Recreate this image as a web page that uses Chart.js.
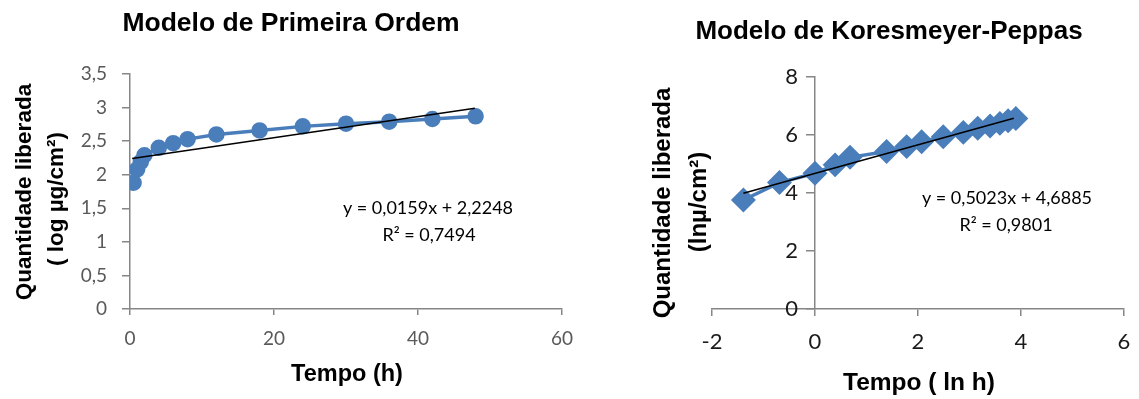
<!DOCTYPE html>
<html>
<head>
<meta charset="utf-8">
<script src="https://cdn.jsdelivr.net/npm/chart.js@4/dist/chart.umd.min.js"></script>
<style>
body{margin:0;background:#fff;width:1139px;height:399px;overflow:hidden;position:relative}
canvas{position:absolute;top:0}
#c1{left:0}
#c2{left:580px}
</style>
</head>
<body>
<canvas id="c1" width="580" height="399"></canvas>
<canvas id="c2" width="559" height="399"></canvas>
<script>
/* data */
const timeH = [0.5, 1, 1.5, 2, 4, 6, 8, 12, 18, 24, 30, 36, 42, 48];
const logQ = [1.88, 2.08, 2.19, 2.29, 2.40, 2.47, 2.53, 2.60, 2.66, 2.72, 2.76, 2.79, 2.83, 2.87];
const trend1X = [0.3, 47.9];
const trend1Y = [2.24, 2.99];

const lnT = [-1.39, -0.69, 0, 0.39, 0.68, 1.39, 1.78, 2.07, 2.49, 2.88, 3.16, 3.40, 3.59, 3.75, 3.90];
const lnQ = [3.76, 4.36, 4.68, 4.97, 5.23, 5.43, 5.60, 5.77, 5.94, 6.09, 6.23, 6.31, 6.40, 6.49, 6.57];
const trend2X = [-1.39, 3.86];
const trend2Y = [3.99, 6.58];

const blue = "rgb(74,126,187)";
const axisGray = "#868686";

function bold(s){
return "bold " + s + "px 'Liberation Sans', Arial, sans-serif";
}
function pts(xs, ys){
return xs.map((x,i)=>({x:x, y:ys[i]}));
}
function comma(v){
return String(v).replace(".", ",");
}

/* free text on the canvas */
const textPlugin = {
id:"texts",
afterDraw(chart, args, opts){
const ctx = chart.ctx;
(opts.items || []).forEach(t=>{
ctx.save();
ctx.translate(t.x, t.y);
if(t.rot) ctx.rotate(t.rot);
ctx.font = t.font;
ctx.fillStyle = t.color || "#000";
ctx.textAlign = "center";
ctx.textBaseline = "middle";
ctx.fillText(t.text, 0, 0);
ctx.restore();
});
}
};

/* y labels of an axis that crosses at x = 0: put them left of the tick marks */
const crossLabels = {
id:"crossLabels",
afterDraw(chart, args, opts){
if(!opts.gap) return;
const ctx = chart.ctx;
const ys = chart.scales.y;
const x0 = chart.scales.x.getPixelForValue(0);
ctx.save();
ctx.font = opts.font;
ctx.fillStyle = opts.color;
ctx.textAlign = "right";
ctx.textBaseline = "middle";
ys.ticks.forEach(t=>{
ctx.fillText(comma(t.value), x0 - opts.gap, ys.getPixelForValue(t.value));
});
ctx.restore();
}
};

function axis(min, max, step, color, size, tl, pad, extra){
return Object.assign({
type:"linear", min:min, max:max,
ticks:{stepSize:step, color:color, font:{family:"Lato", size:size}, padding:pad, callback:v=>comma(v)},
grid:{drawOnChartArea:false, drawTicks:true, tickLength:tl, color:axisGray, lineWidth:1.5},
border:{display:true, color:axisGray, width:1.5}
}, extra || {});
}

function fitX(s){
s.height = 90;
s.paddingLeft = 0;
s.paddingRight = 0;
}

/* left chart */
new Chart(document.getElementById("c1"), {
type:"scatter",
data:{
datasets:[
{data:pts(trend1X, trend1Y), showLine:true, borderColor:"#000", borderWidth:1.5, pointRadius:0},
{data:pts(timeH, logQ), showLine:true, borderColor:blue, backgroundColor:blue, borderWidth:3.5, pointRadius:6.5, pointHoverRadius:6.5}
]
},
options:{
responsive:false, animation:false, devicePixelRatio:1,
layout:{padding:{left:0, right:18, top:74, bottom:0}},
plugins:{
legend:{display:false}, tooltip:{enabled:false},
texts:{items:[
{text:"Modelo de Primeira Ordem", x:291, y:24, font:bold(26.5)},
{text:"Quantidade liberada", x:25, y:192, rot:-Math.PI/2, font:bold(22.5)},
{text:"( log µg/cm²)", x:57, y:199, rot:-Math.PI/2, font:bold(22.5)},
{text:"Tempo (h)", x:347, y:375, font:bold(23.5)},
{text:"y = 0,0159x + 2,2248", x:428, y:208, font:"18px Lato"},
{text:"R² = 0,7494", x:429, y:235, font:"18px Lato"}
]}
},
scales:{
x:axis(0, 60, 20, "#595959", 19, 6, 12, {position:"bottom", afterFit:fitX}),
y:axis(0, 3.5, 0.5, "#595959", 19, 8, 15, {position:"left", afterFit:s=>{s.width = 130;}})
}
},
plugins:[textPlugin]
});

/* right chart */
new Chart(document.getElementById("c2"), {
type:"scatter",
data:{
datasets:[
{data:pts(trend2X, trend2Y), showLine:true, borderColor:"#000", borderWidth:1.5, pointRadius:0},
{data:pts(lnT, lnQ), showLine:true, borderColor:blue, backgroundColor:blue, borderWidth:3.5, pointStyle:"rectRot", pointRadius:10, pointHoverRadius:10}
]
},
options:{
responsive:false, animation:false, devicePixelRatio:1,
layout:{padding:{left:132, right:15, top:77, bottom:0}},
plugins:{
legend:{display:false}, tooltip:{enabled:false},
crossLabels:{gap:17, font:"22px Lato", color:"#1a1a1a"},
texts:{items:[
{text:"Modelo de Koresmeyer-Peppas", x:309, y:32, font:bold(26)},
{text:"Quantidade liberada", x:83, y:203, rot:-Math.PI/2, font:bold(24)},
{text:"(lnµ/cm²)", x:119, y:202, rot:-Math.PI/2, font:bold(24)},
{text:"Tempo ( ln h)", x:339, y:383, font:bold(24.5)},
{text:"y = 0,5023x + 4,6885", x:427, y:198, font:"18px Lato"},
{text:"R² = 0,9801", x:426, y:225, font:"18px Lato"}
]}
},
scales:{
x:axis(-2, 6, 2, "#1a1a1a", 22, 7, 13, {position:"bottom", afterFit:fitX}),
y:axis(0, 8, 2, "transparent", 22, 8, 5, {position:{x:0}})
}
},
plugins:[textPlugin, crossLabels]
});
</script>
</body>
</html>
